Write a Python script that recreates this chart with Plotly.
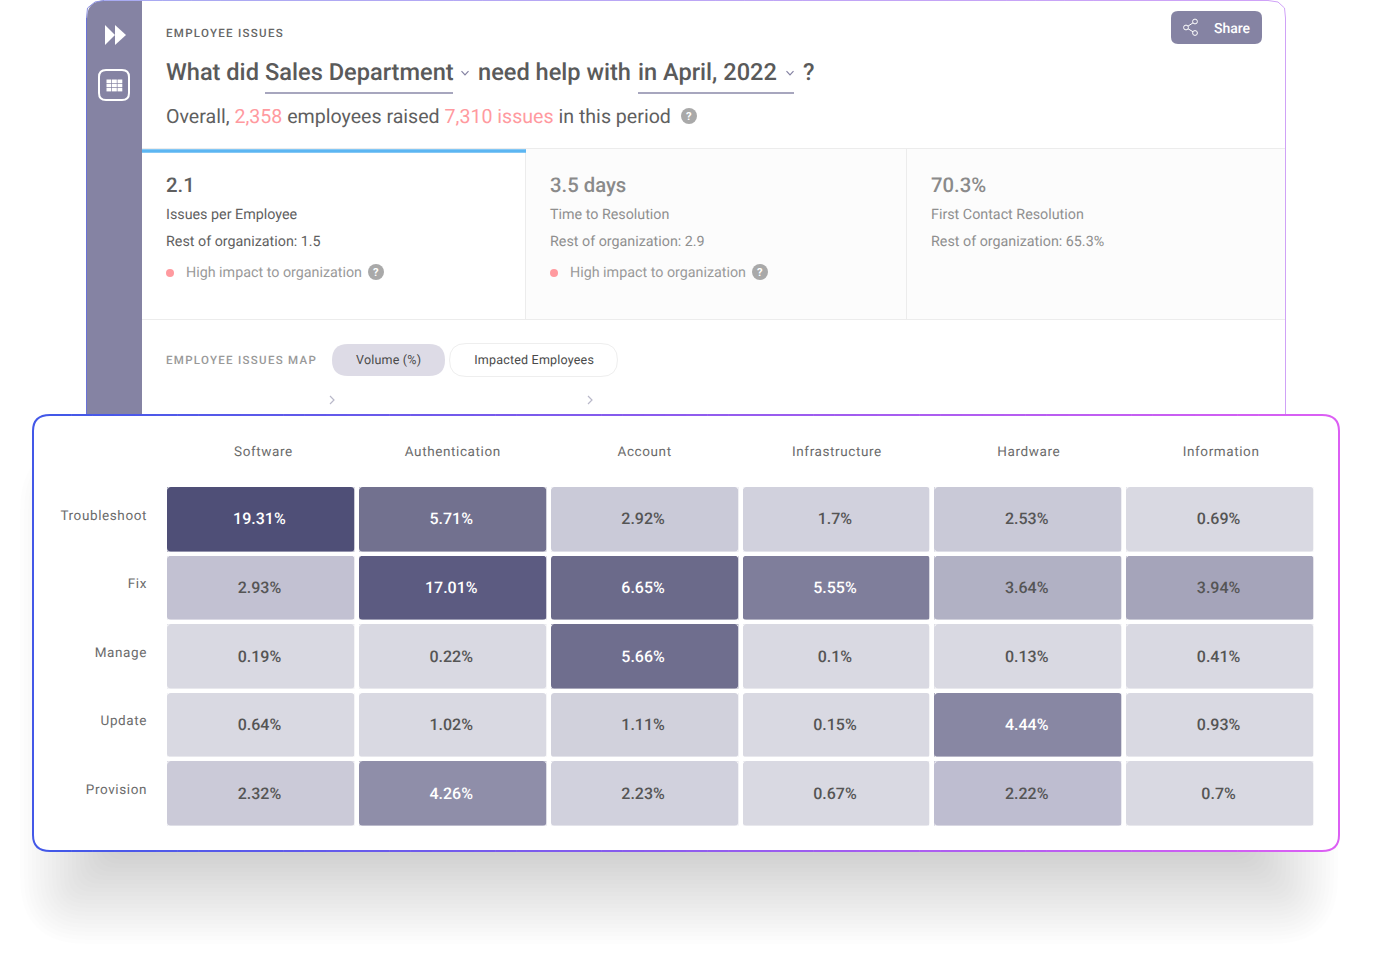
import plotly.graph_objects as go

W = 1373
H = 965

# heatmap data
issue_types = ["Software", "Authentication", "Account", "Infrastructure", "Hardware", "Information"]
actions = ["Troubleshoot", "Fix", "Manage", "Update", "Provision"]
volume = [
    [19.31, 5.71, 2.92, 1.7, 2.53, 0.69],
    [2.93, 17.01, 6.65, 5.55, 3.64, 3.94],
    [0.19, 0.22, 5.66, 0.1, 0.13, 0.41],
    [0.64, 1.02, 1.11, 0.15, 4.44, 0.93],
    [2.32, 4.26, 2.23, 0.67, 2.22, 0.7],
]
# value -> cell colour as seen in the picture
shades = {
    0.1: "#d9d9e2", 1.02: "#d9d9e2", 1.11: "#d1d1dc", 1.7: "#d1d1dd",
    2.22: "#bebdd0", 2.23: "#d1d1dd", 2.32: "#cbcad8", 2.53: "#c9c9d7",
    2.92: "#cacad8", 2.93: "#c2c1d2", 3.64: "#b1b1c4", 3.94: "#a5a4ba",
    4.26: "#8f8ea9", 4.44: "#8887a3", 5.55: "#7f7e9b", 5.66: "#6f6e8e",
    5.71: "#72718f", 6.65: "#6b6a8a", 17.01: "#5c5b81", 19.31: "#4f4f77",
}
white_text_from = 4.0

# header data
metric_values = ["2.1", "3.5 days", "70.3%"]
metric_names = ["Issues per Employee", "Time to Resolution", "First Contact Resolution"]
metric_rest = ["Rest of organization: 1.5", "Rest of organization: 2.9", "Rest of organization: 65.3%"]

PINK = "#ff9a9f"
SLATE = "#8583a3"
FONT = "Roboto"

shapes = []
notes = []


def fx(x):
    return x / W


def fy(y):
    return 1 - y / H


def lerp_hex(a, b, t):
    ca = [int(a[i:i + 2], 16) for i in (1, 3, 5)]
    cb = [int(b[i:i + 2], 16) for i in (1, 3, 5)]
    return "#%02x%02x%02x" % tuple(round(p + (q - p) * t) for p, q in zip(ca, cb))


def rrect_path(x0, y0, x1, y1, r):
    if not isinstance(r, (list, tuple)):
        r = [r, r, r, r]
    tl, tr, br, bl = r
    pts = [
        f"M{fx(x0 + tl)},{fy(y0)}", f"L{fx(x1 - tr)},{fy(y0)}",
        f"Q{fx(x1)},{fy(y0)} {fx(x1)},{fy(y0 + tr)}", f"L{fx(x1)},{fy(y1 - br)}",
        f"Q{fx(x1)},{fy(y1)} {fx(x1 - br)},{fy(y1)}", f"L{fx(x0 + bl)},{fy(y1)}",
        f"Q{fx(x0)},{fy(y1)} {fx(x0)},{fy(y1 - bl)}", f"L{fx(x0)},{fy(y0 + tl)}",
        f"Q{fx(x0)},{fy(y0)} {fx(x0 + tl)},{fy(y0)}", "Z",
    ]
    return " ".join(pts)


def rrect(x0, y0, x1, y1, r, fill="rgba(0,0,0,0)", line=None, lw=1, opacity=1, layer="below"):
    shapes.append(dict(
        type="path", path=rrect_path(x0, y0, x1, y1, r), xref="paper", yref="paper",
        fillcolor=fill, line=dict(color=line or "rgba(0,0,0,0)", width=lw if line else 0),
        opacity=opacity, layer=layer,
    ))


def seg(x0, y0, x1, y1, color, lw=1, layer="below"):
    shapes.append(dict(
        type="line", x0=fx(x0), y0=fy(y0), x1=fx(x1), y1=fy(y1), xref="paper", yref="paper",
        line=dict(color=color, width=lw), layer=layer,
    ))


def poly(points, fill=None, line=None, lw=1.2, close=True):
    d = "M" + " L".join(f"{fx(x)},{fy(y)}" for x, y in points) + (" Z" if close else "")
    shapes.append(dict(
        type="path", path=d, xref="paper", yref="paper", fillcolor=fill or "rgba(0,0,0,0)",
        line=dict(color=line or "rgba(0,0,0,0)", width=lw if line else 0), layer="below",
    ))


def dot(x, y, r, fill, line=None, lw=1):
    shapes.append(dict(
        type="circle", x0=fx(x - r), x1=fx(x + r), y0=fy(y - r), y1=fy(y + r), xref="paper", yref="paper",
        fillcolor=fill, line=dict(color=line or "rgba(0,0,0,0)", width=lw if line else 0), layer="below",
    ))


def txt(x, y, s, size, color="#5f5f5f", anchor="left", weight=400):
    # plotly pads left anchored annotations by about a pixel
    if anchor == "left":
        x -= 1
    notes.append(dict(
        x=fx(x), y=fy(y), xref="paper", yref="paper", text=s, showarrow=False,
        xanchor=anchor, yanchor="middle", borderpad=0, align=anchor,
        font=dict(family=FONT, size=size, color=color, weight=weight),
    ))


def help_icon(x, y, r=8):
    dot(x, y, r, "#a9a9a9")
    txt(x, y, "?", r * 1.4, "#ffffff", "center", 700)


# soft shadow under the front card, built from stacked translucent boxes
for d in range(-46, 47, 4):
    rrect(66 - d, 490 - d, 1292 + d, 898 + d, 20 + max(d, 0), fill="#000000", opacity=0.0098)

# back panel
rrect(87, 0.5, 1285, 440, [18, 18, 0, 0], fill="#ffffff")
rrect(87, 0.5, 142, 440, [18, 0, 0, 0], fill=SLATE)

# metric strip
shapes.append(dict(type="rect", x0=fx(526), x1=fx(1285), y0=fy(149), y1=fy(319), xref="paper", yref="paper",
                   fillcolor="#fcfcfc", line=dict(width=0), layer="below"))
seg(142, 148.5, 1285, 148.5, "#ececec")
seg(142, 319.5, 1285, 319.5, "#ececec")
seg(525.5, 149, 525.5, 319, "#ececec")
seg(906.5, 149, 906.5, 319, "#ececec")
seg(142, 151, 526, 151, "#5cb6f2", 3.5)

# back panel gradient outline
n = 40
for i in range(n):
    a = 104 + (1268 - 104) * i / n
    b = 104 + (1268 - 104) * (i + 1) / n + 0.5
    seg(a, 0.5, b, 0.5, lerp_hex("#a8aaf2", "#d0a2f8", i / n))
seg(86.5, 18, 86.5, 415, "#6a72d6")
seg(1285.5, 18, 1285.5, 415, "#cfa2f6")
poly([(86.5, 18), (87.5, 8), (95, 2), (104, 0.5)], line="#8a8fe0", lw=1, close=False)
poly([(1268, 0.5), (1278, 2), (1284.5, 8), (1285.5, 18)], line="#d0a2f8", lw=1, close=False)

# sidebar icons
poly([(105, 25), (115, 35), (105, 45)], fill="#ffffff")
poly([(115, 25), (126, 35), (115, 45)], fill="#ffffff")
rrect(99, 70, 129, 100, 7, line="#ffffff", lw=2)
for gx in (106.5, 112, 117.5):
    for gy in (79.5, 83.7, 87.9):
        shapes.append(dict(type="rect", x0=fx(gx), x1=fx(gx + 4.8), y0=fy(gy), y1=fy(gy + 3.5), xref="paper", yref="paper",
                           fillcolor="#ffffff", line=dict(width=0), layer="below"))

# share button
rrect(1171, 11, 1262, 44, 7, fill=SLATE)
poly([(1195, 21.5), (1186, 27.5), (1195, 33)], line="#ffffff", lw=1, close=False)
dot(1195, 21.5, 2.4, SLATE, "#ffffff", 1)
dot(1186, 27.5, 2.4, SLATE, "#ffffff", 1)
dot(1195, 33, 2.4, SLATE, "#ffffff", 1)
txt(1232, 28, "Share", 14, "#ffffff", "center", 500)

# question line
txt(166, 33, "EMPLOYEE ISSUES", 11.5, "#666666", weight=500)
txt(166, 72, "What did", 23.6, "#5a5a5a", weight=500)
txt(265, 72, "Sales Department", 23.6, "#5a5a5a", weight=500)
txt(478, 72, "need help with", 23.6, "#5a5a5a", weight=500)
txt(638, 72, "in April, 2022", 23.6, "#5a5a5a", weight=500)
txt(803, 72, "?", 23.6, "#5a5a5a", weight=500)
seg(265, 93, 453, 93, "#8a88a8", 1.3)
seg(638, 93, 794, 93, "#8a88a8", 1.3)
for cx, cy in ((465, 73), (790, 73)):
    poly([(cx - 3.5, cy - 1.8), (cx, cy + 1.8), (cx + 3.5, cy - 1.8)], line="#8583a3", lw=1.2, close=False)
txt(166, 116, f"Overall, <span style='color:{PINK}'>2,358</span> employees raised "
              f"<span style='color:{PINK}'>7,310 issues</span> in this period", 19.6)
help_icon(689, 116)

# metric cards
for i, left in enumerate((166, 550, 931)):
    strong = "#5f5f5f" if i == 0 else "#8a8a8a"
    soft = "#5f5f5f" if i == 0 else "#8f8f8f"
    txt(left, 185, metric_values[i], 20.3, strong, weight=500)
    txt(left, 214, metric_names[i], 14.3, soft)
    txt(left, 241, metric_rest[i], 14.3, soft)
    if i < 2:
        dot(left + 4, 273, 4, PINK)
        txt(left + 20, 272, "High impact to organization", 14.3, "#999999")
        help_icon(left + 210, 272)

# map toggle row
txt(166, 360, "EMPLOYEE ISSUES MAP", 11.5, "#999999", weight=500)
rrect(332, 344, 445, 376, 16, fill="#dddbe6")
txt(388.5, 359.5, "Volume (%)", 12.5, "#4a4a4a", "center")
rrect(449.5, 343.5, 617.5, 376.5, 16.5, fill="#ffffff", line="#eeeeee")
txt(533.5, 359.5, "Impacted Employees", 12.5, "#4a4a4a", "center")
for cx in (332, 590):
    poly([(cx - 2, 396), (cx + 2, 400), (cx - 2, 404)], line="#b9b8c9", lw=1.2, close=False)

# front card
rrect(33, 415, 1339, 851, 17, fill="#ffffff")
n = 60
for i in range(n):
    a = 50 + (1322 - 50) * i / n
    b = 50 + (1322 - 50) * (i + 1) / n + 0.5
    c = lerp_hex("#4358e8", "#dc5ff4", i / n)
    seg(a, 415, b, 415, c, 2)
    seg(a, 851, b, 851, c, 2)
seg(33, 431, 33, 835, "#4358e8", 2)
seg(1339, 431, 1339, 835, "#dc5ff4", 2)
for (x0, y0, x1, y1, qx, qy, c) in (
    (33, 431, 50, 415, 33, 415, "#4358e8"),
    (33, 835, 50, 851, 33, 851, "#4358e8"),
    (1322, 415, 1339, 431, 1339, 415, "#dc5ff4"),
    (1322, 851, 1339, 835, 1339, 851, "#dc5ff4"),
):
    shapes.append(dict(type="path", xref="paper", yref="paper",
                       path=f"M{fx(x0)},{fy(y0)} Q{fx(qx)},{fy(qy)} {fx(x1)},{fy(y1)}",
                       line=dict(color=c, width=2), layer="below"))

# heatmap
values_sorted = sorted(shades)
zmin, zmax = values_sorted[0], values_sorted[-1]
colorscale = [[(v - zmin) / (zmax - zmin), shades[v]] for v in values_sorted]

cols = list(range(len(issue_types)))
rows = list(range(len(actions)))

# whole pixel plot box so the heatmap image is not resampled
plot_left, plot_right, plot_top, plot_bottom = 165, 1316, 485, 828
pitch_x = (plot_right - plot_left) / len(cols)
pitch_y = (plot_bottom - plot_top) / len(rows)
gap_x, gap_y = 4.7, 4.4

fig = go.Figure()
fig.add_trace(go.Heatmap(
    z=volume, x=cols, y=rows, colorscale=colorscale, zmin=zmin, zmax=zmax,
    xgap=gap_x, ygap=gap_y, showscale=False, hoverinfo="skip",
))
cell_x, cell_y, cell_text, cell_color = [], [], [], []
for r, row in enumerate(volume):
    for c, v in enumerate(row):
        cell_x.append(c - 1.5 / pitch_x)
        cell_y.append(r + 1 / pitch_y)
        cell_text.append(f"{v}%")
        cell_color.append("#ffffff" if v >= white_text_from else "#555555")
fig.add_trace(go.Scatter(
    x=cell_x, y=cell_y, text=cell_text, mode="text", hoverinfo="skip", showlegend=False,
    textfont=dict(family=FONT, size=16, color=cell_color, weight=500),
))

# rounded cell corners: small white corner pieces in data units
hw = (pitch_x - gap_x) / 2 / pitch_x
hh = (pitch_y - gap_y) / 2 / pitch_y
rx, ry = 3.5 / pitch_x, 3.5 / pitch_y
for c in cols:
    for r in rows:
        a, b, t, u = c - hw, c + hw, r - hh, r + hh
        d = (f"M{a},{t} L{a + rx},{t} Q{a},{t} {a},{t + ry} Z "
             f"M{b},{t} L{b - rx},{t} Q{b},{t} {b},{t + ry} Z "
             f"M{b},{u} L{b - rx},{u} Q{b},{u} {b},{u - ry} Z "
             f"M{a},{u} L{a + rx},{u} Q{a},{u} {a},{u - ry} Z")
        shapes.append(dict(type="path", path=d, xref="x", yref="y", fillcolor="#ffffff",
                           line=dict(width=0), layer="above"))

header_nudge = [1, -1.5, -1.5, -1, -1, -0.5]
fig.update_layout(
    width=W, height=H, margin=dict(l=0, r=0, t=0, b=0), showlegend=False,
    paper_bgcolor="rgba(0,0,0,0)", plot_bgcolor="rgba(0,0,0,0)",
    font=dict(family=FONT),
    shapes=shapes, annotations=notes,
    xaxis=dict(
        domain=[plot_left / W, plot_right / W], range=[-0.5, 5.5], side="top", showgrid=False, zeroline=False,
        tickmode="array", tickvals=[c + (1.5 + header_nudge[c]) / pitch_x for c in cols], ticktext=issue_types,
        ticks="", ticklabelstandoff=25,
        tickfont=dict(family=FONT, size=13.5, color="#6b6b6b"),
    ),
    yaxis=dict(
        domain=[1 - plot_bottom / H, 1 - plot_top / H], range=[4.5, -0.5], showgrid=False, zeroline=False,
        tickmode="array", tickvals=[r - 0.065 for r in rows], ticktext=actions, ticks="", ticklabelstandoff=17,
        tickfont=dict(family=FONT, size=13.5, color="#6b6b6b"),
    ),
)

wide = ["EMPLOYEE ISSUES", "EMPLOYEE ISSUES MAP"]
spaced = issue_types + actions
pills = ["Volume (%)", "Impacted Employees"]
post = ("document.body.style.margin='0';"
        "var wide=" + repr(wide) + ",spaced=" + repr(spaced) + ",pills=" + repr(pills) + ";"
        "document.querySelectorAll('svg text').forEach(function(t){"
        "t.style.textRendering='geometricPrecision';"
        "if(wide.indexOf(t.textContent)>=0){t.style.letterSpacing='1.3px';}"
        "if(spaced.indexOf(t.textContent)>=0){t.style.letterSpacing='0.6px';}"
        "if(pills.indexOf(t.textContent)>=0){t.style.letterSpacing='0.2px';}});")

fig.write_html("out.html", config={"displayModeBar": False}, post_script=post)
